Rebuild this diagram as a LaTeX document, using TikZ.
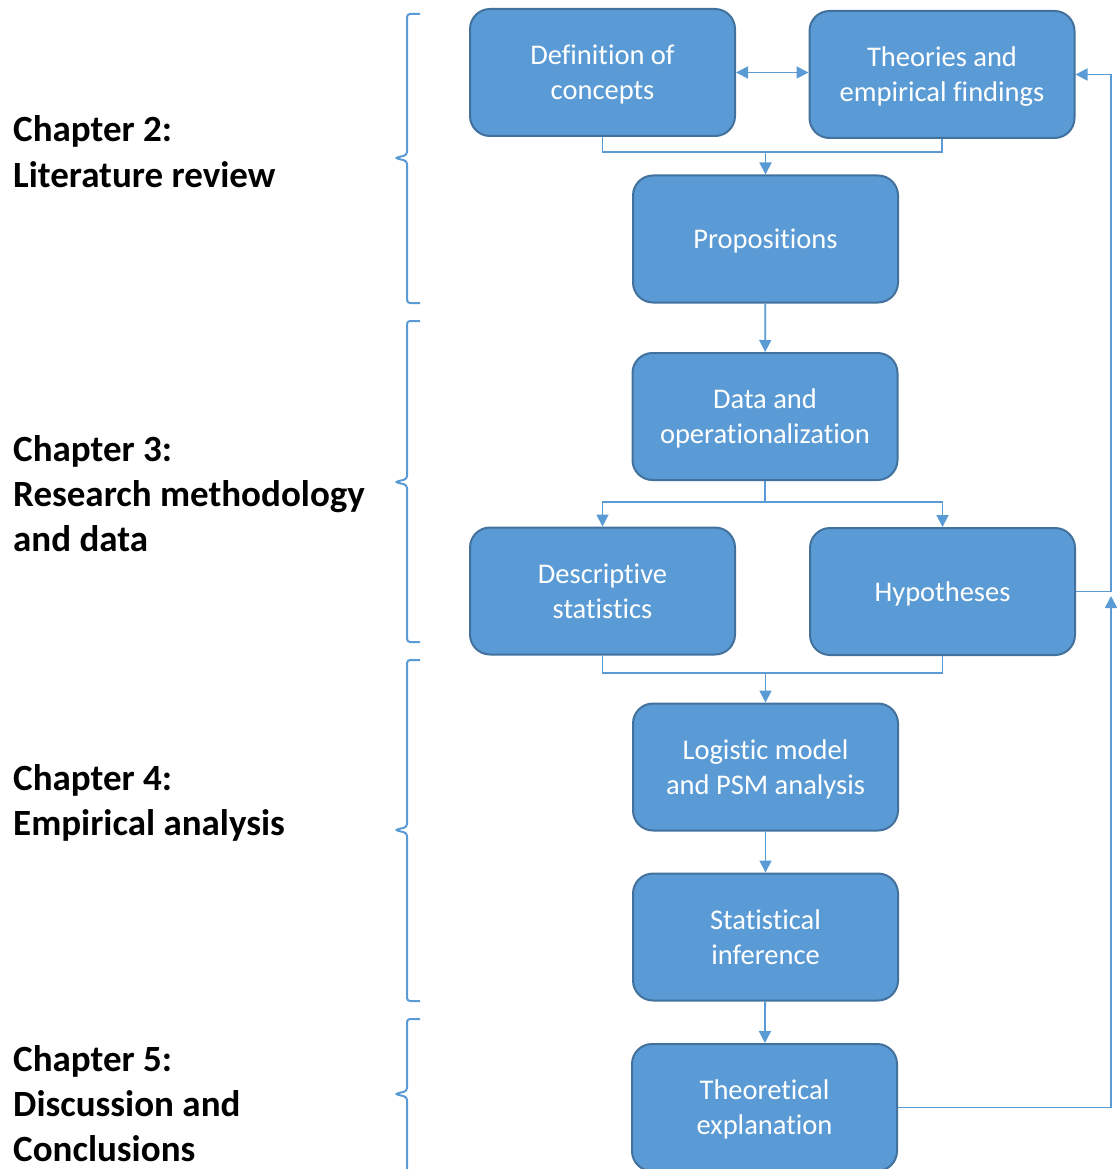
\documentclass[tikz,border=0pt]{standalone}
\usepackage{fontspec}
\setmainfont{Carlito}[Ligatures={NoCommon}]
\usetikzlibrary{arrows.meta}
\definecolor{boxfill}{HTML}{5B9BD5}
\definecolor{boxedge}{HTML}{41719C}
\definecolor{linkblue}{HTML}{5B9BD5}
\begin{document}
\begin{tikzpicture}[x=1pt,y=-1pt,
  stepbox/.style={draw=boxedge, line width=2pt, fill=boxfill, rounded corners=20pt,
    minimum width=265pt, minimum height=127pt, text=white, align=center,
    font=\fontsize{28.5}{35}\selectfont, inner sep=0pt, text depth=0pt},
  tip/.tip={Triangle[length=12pt,width=12pt]},
  plain/.style={draw=linkblue, line width=1.8pt},
  link/.style={plain, -tip},
  chapter/.style={anchor=base west, align=left, inner sep=0pt,
    font=\fontsize{37}{45}\selectfont\bfseries},
  brace/.style={draw=linkblue, line width=2pt, rounded corners=3pt}]
\useasboundingbox (0,0) rectangle (1116,1169);

% process steps
\node[stepbox] (def)   at (602.5,72.5)  {Definition of\\concepts};
\node[stepbox] (theo)  at (942,74.5)    {Theories and\\empirical findings};
\node[stepbox] (prop)  at (765.5,239)   {Propositions};
\node[stepbox] (data)  at (765,416.5)   {Data and\\operationalization};
\node[stepbox] (desc)  at (602.5,591)   {Descriptive\\statistics};
\node[stepbox] (hyp)   at (942.5,591.5) {Hypotheses};
\node[stepbox] (logit) at (765.5,767)   {Logistic model\\and PSM analysis};
\node[stepbox] (stat)  at (765.5,937)   {Statistical\\inference};
\node[stepbox] (expl)  at (764.5,1107.5){Theoretical\\explanation};

% junctions and routing points
\coordinate (j1) at (765.5,152);
\coordinate (j2) at (765,502);
\coordinate (j3) at (765.5,673);
\coordinate (up) at (1111,596);
\coordinate (top) at (1111,74.5);

% connectors
\draw[plain, tip-tip] (def.east) -- (theo.west |- def.east);
\draw[plain] (def.south) |- (j1) -| (theo.south);
\draw[link] (j1) -- (prop.north);
\draw[link] (prop) -- (data);
\draw[plain] (data.south) -- (j2);
\draw[link] (j2) -| (desc.north);
\draw[link] (j2) -| (hyp.north);
\draw[plain] (desc.south) |- (j3) -| (hyp.south);
\draw[link] (j3) -- (logit.north);
\draw[link] (logit) -- (stat);
\draw[link] (stat) -- (expl);
\draw[link] (expl.east) -| (up);
\draw[link] (hyp.east) -| (top) -- (theo.east);

% chapter brackets
\draw[brace] (420,14) -- (407,14) -- (407,155) -- (395,158) -- (407,161) -- (407,303) -- (420,303);
\draw[brace] (420,321) -- (407,321) -- (407,479) -- (395,482) -- (407,485) -- (407,642) -- (420,642);
\draw[brace] (420,660) -- (407,660) -- (407,827) -- (395,830) -- (407,833) -- (407,1001) -- (420,1001);
\draw[brace] (420,1019) -- (407,1019) -- (407,1091) -- (395,1094) -- (407,1097) -- (407,1185);

% chapter labels (anchored on the baseline of their last line)
\node[chapter] (ch2) at (13,187)  {Chapter 2:\\Literature review};
\node[chapter] (ch3) at (13,551)  {Chapter 3:\\Research methodology\\and data};
\node[chapter] (ch4) at (13,835)  {Chapter 4:\\Empirical analysis};
\node[chapter] (ch5) at (13,1161) {Chapter 5:\\Discussion and\\Conclusions};
\end{tikzpicture}
\end{document}
